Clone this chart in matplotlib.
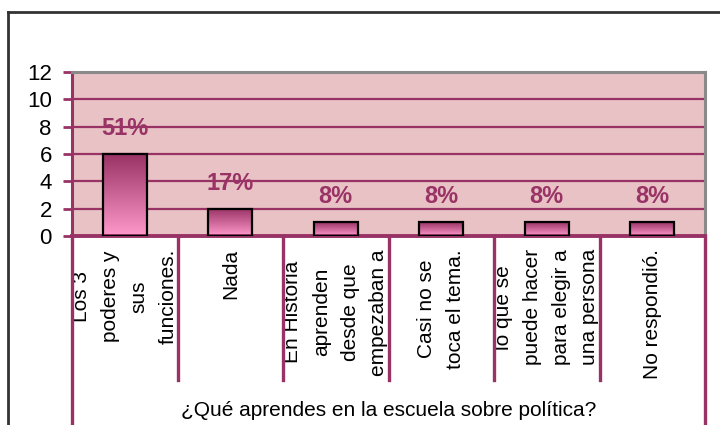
import matplotlib
matplotlib.use('Agg')
import matplotlib.pyplot as plt
import numpy as np
from matplotlib.lines import Line2D
from matplotlib.patches import Rectangle
import matplotlib.transforms as mtransforms
from matplotlib.colors import LinearSegmentedColormap

plt.rcParams['font.family'] = ['Liberation Sans', 'DejaVu Sans']

categories = ["Los 3\npoderes y\nsus\nfunciones.",
              "Nada",
              "En Historia\naprenden\ndesde que\nempezaban a",
              "Casi no se\ntoca el tema.",
              "lo que se\npuede hacer\npara elegir a\nuna persona",
              "No respondió."]
values = [6, 2, 1, 1, 1, 1]
pct_labels = ["51%", "17%", "8%", "8%", "8%", "8%"]
y_ticks = [0, 2, 4, 6, 8, 10, 12]
x_title = "¿Qué aprendes en la escuela sobre política?"

W, H = 720, 425
fig = plt.figure(figsize=(W / 100, H / 100), dpi=100)
fig.patch.set_facecolor('white')
ax = fig.add_axes([72 / W, 1 - 236 / H, (705 - 72) / W, (236 - 72) / H])
ax.set_facecolor('#e8c2c5')

mag = '#993366'
n = len(categories)
xs = np.arange(n)

for yv in y_ticks[1:-1]:
    ax.axhline(yv, color=mag, lw=1.6, zorder=1)

cmap = LinearSegmentedColormap.from_list('barg', ['#ff99cc', '#993366'])
grad = np.linspace(0, 1, 256).reshape(-1, 1)
bw = 0.42
for xi, v in zip(xs, values):
    ax.imshow(grad, cmap=cmap, origin='lower', aspect='auto',
              extent=(xi - bw / 2, xi + bw / 2, 0, v), zorder=2,
              interpolation='bilinear')
    ax.add_patch(Rectangle((xi - bw / 2, 0), bw, v, fill=False,
                           edgecolor='black', lw=1.6, zorder=3))

for xi, v, lbl in zip(xs, values, pct_labels):
    ax.annotate(lbl, (xi, v), xytext=(0, 18.4), textcoords='offset points',
                ha='center', va='center', fontsize=17, fontweight='bold',
                color=mag, zorder=4)

ax.set_xlim(-0.5, n - 0.5)
ax.set_ylim(0, 12)
ax.set_yticks(y_ticks)
ax.set_xticks([])
ax.tick_params(axis='y', length=6.5, width=2, color=mag, pad=8,
               labelsize=16, labelcolor='black')

for s in ['top', 'right']:
    ax.spines[s].set_color('#8a8a8a')
    ax.spines[s].set_linewidth(2.2)
ax.spines['left'].set_color(mag)
ax.spines['left'].set_linewidth(2.2)
ax.spines['bottom'].set_color(mag)
ax.spines['bottom'].set_linewidth(2.8)

trans = mtransforms.blended_transform_factory(ax.transData, fig.transFigure)
y_axis = 1 - 236 / H
y_div = 1 - 380 / H
for i in range(n + 1):
    xb = i - 0.5
    y_end = 0 if i in (0, n) else y_div
    ax.add_line(Line2D([xb, xb], [y_axis, y_end], transform=trans,
                       color=mag, lw=2.4, clip_on=False, zorder=5))

for xi, cat in zip(xs, categories):
    ax.text(xi, 1 - 249 / H, cat, transform=trans, rotation=90,
            ha='center', va='top', multialignment='center',
            linespacing=1.65, fontsize=15, color='black', clip_on=False)

fig.text(389 / W, 1 - 410 / H, x_title, ha='center', va='center',
         fontsize=15, color='black')

fig.add_artist(Line2D([8 / W, 8 / W], [0, 1 - 12 / H], color='#333333', lw=2))
fig.add_artist(Line2D([8 / W, 1], [1 - 12 / H, 1 - 12 / H], color='#333333', lw=2))

fig.savefig('out.png', dpi=100)
